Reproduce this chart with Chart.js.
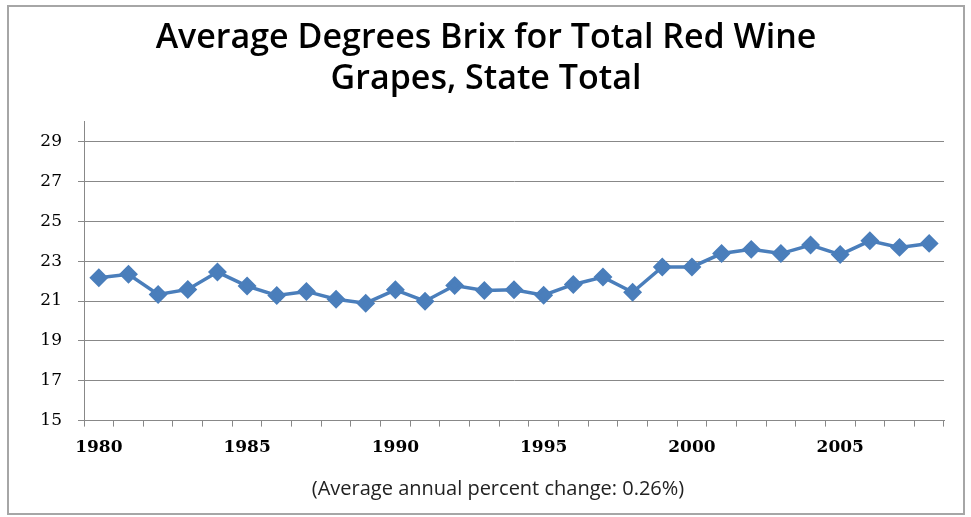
<!DOCTYPE html>
<html>
<head>
<meta charset="utf-8">
<script src="https://cdn.jsdelivr.net/npm/chart.js@4"></script>
<style>
  body { margin: 0; background: #fff; }
  #wrap { position: absolute; left: 0; top: 0; width: 971px; height: 517px; }
  #frame { position: absolute; left: 7px; top: 5px; width: 954px; height: 506px; border: 2px solid #a6a6a6; }
  canvas { position: absolute; left: 0; top: 0; }
</style>
</head>
<body>
<div id="wrap">
  <div id="frame"></div>
  <canvas id="brixChart" width="971" height="517"></canvas>
</div>
<script>
const years = [];
for (let y = 1980; y <= 2008; y++) years.push(String(y));

const brix = [22.17, 22.34, 21.33, 21.58, 22.45, 21.75, 21.28, 21.48, 21.09, 20.89,
              21.56, 20.99, 21.78, 21.53, 21.56, 21.29, 21.83, 22.20, 21.44, 22.71,
              22.71, 23.38, 23.59, 23.38, 23.81, 23.33, 24.02, 23.69, 23.89];

const yTicks = [15, 17, 19, 21, 23, 25, 27, 29];

const titleLines = ['Average Degrees Brix for Total Red Wine', 'Grapes, State Total'];
const footnote = '(Average annual percent change: 0.26%)';

// footnote sits under the year labels, a bit left of the plot centre
const footnotePlugin = {
    id: 'footnote',
    afterDraw(chart) {
        const c = chart.ctx;
        const area = chart.chartArea;
        c.save();
        c.font = '20px "Open Sans"';
        c.fillStyle = '#222';
        c.textAlign = 'center';
        c.textBaseline = 'middle';
        c.fillText(footnote, (area.left + area.right) / 2 - 16, area.bottom + 69);
        c.restore();
    }
};

const ctx = document.getElementById('brixChart').getContext('2d');
new Chart(ctx, {
    type: 'line',
    data: {
        labels: years,
        datasets: [{
            label: 'Degrees Brix',
            data: brix,
            borderColor: '#4a7ebb',
            backgroundColor: '#4a7ebb',
            borderWidth: 3.5,
            pointStyle: 'rectRot',
            pointRadius: 7,
            pointHoverRadius: 7,
            tension: 0,
            fill: false
        }]
    },
    plugins: [footnotePlugin],
    options: {
        responsive: false,
        animation: false,
        layout: { padding: { left: 28, right: 27, top: 10, bottom: 48 } },
        plugins: {
            legend: { display: false },
            tooltip: { enabled: false },
            title: {
                display: true,
                text: titleLines,
                color: '#000',
                font: { family: 'Open Sans', size: 34, weight: '600', lineHeight: 1.2 },
                padding: { top: 8, bottom: 22 }
            }
        },
        scales: {
            x: {
                offset: true,
                grid: {
                    offset: true,
                    drawOnChartArea: false,
                    drawTicks: true,
                    tickLength: 6,
                    color: '#888'
                },
                border: { color: '#888', width: 1 },
                ticks: {
                    autoSkip: false,
                    maxRotation: 0,
                    color: '#000',
                    font: { family: 'DejaVu Serif', size: 17, weight: 'bold' },
                    padding: 11,
                    callback: function (val, i) {
                        return i % 5 === 0 ? this.getLabelForValue(val) : '';
                    }
                }
            },
            y: {
                min: 15,
                max: 30,
                afterBuildTicks: function (scale) {
                    scale.ticks = yTicks.map(v => ({ value: v }));
                },
                afterFit: function (scale) {
                    scale.width = 56;
                },
                grid: {
                    color: '#888',
                    drawTicks: true,
                    tickLength: 6
                },
                border: { color: '#888', width: 1 },
                ticks: {
                    color: '#000',
                    font: { family: 'DejaVu Serif', size: 17 },
                    padding: 16
                }
            }
        }
    }
});
</script>
</body>
</html>
